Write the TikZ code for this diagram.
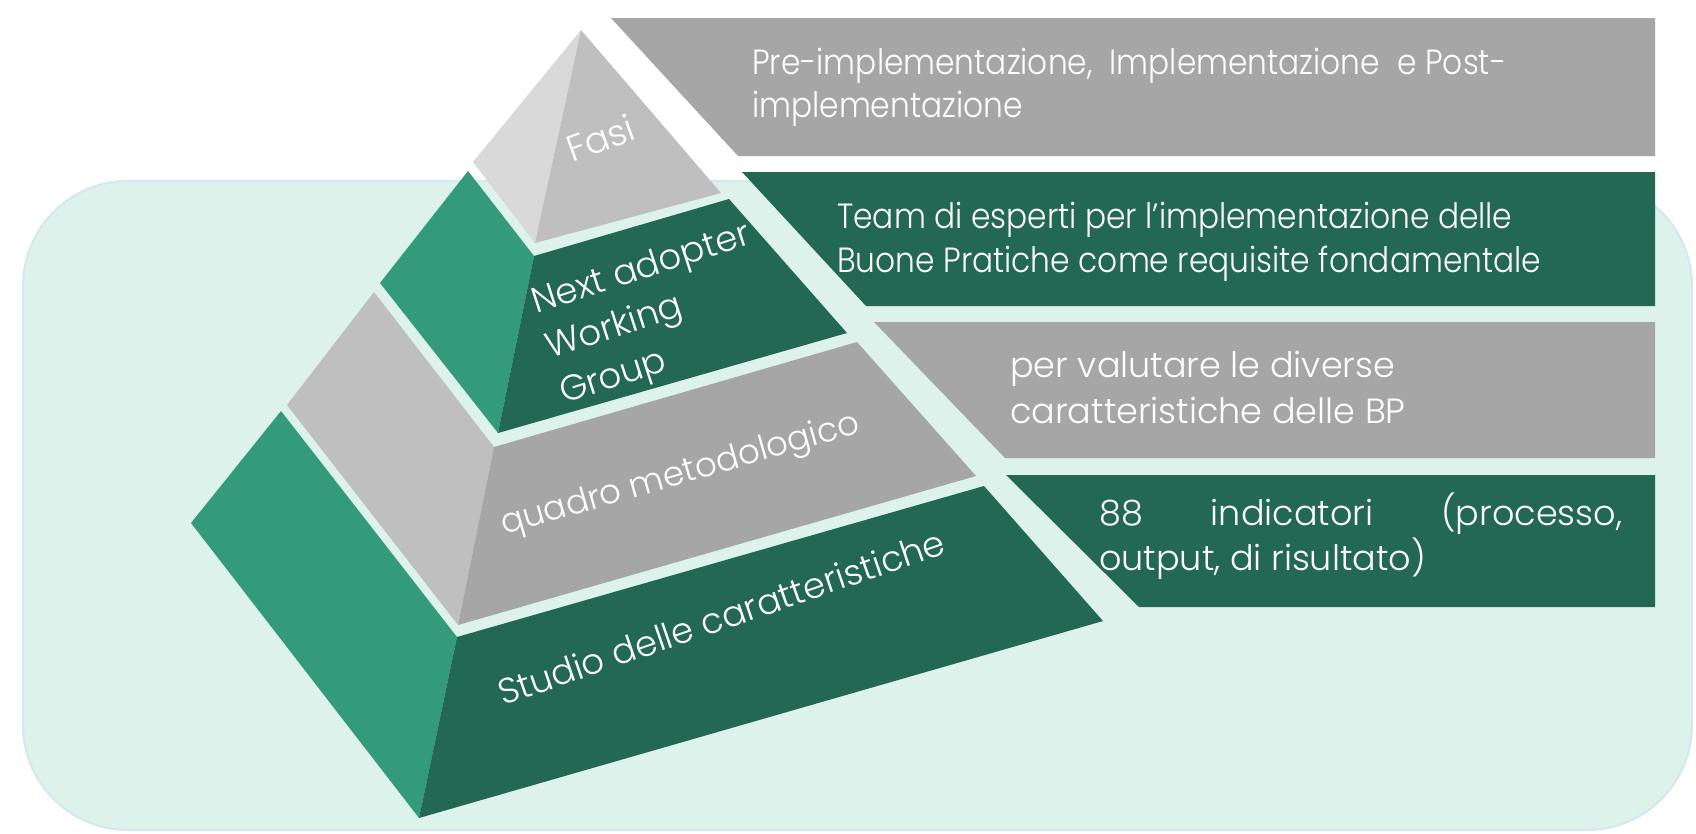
\documentclass[tikz,border=0pt]{standalone}
\usepackage{fontspec}
\usepackage{graphicx}
\setmainfont{Poppins}[UprightFont={* Light}]
\definecolor{dkgreen}{HTML}{236852}
\definecolor{mdgreen}{HTML}{339B7A}
\definecolor{grayA}{HTML}{A6A6A6}
\definecolor{grayB}{HTML}{BFBFBF}
\definecolor{grayC}{HTML}{D9D9D9}
\definecolor{mint}{HTML}{DCF2EB}
\definecolor{mintline}{HTML}{D4E7F4}
\newcommand{\narrowtxt}[1]{\scalebox{0.893}[1]{#1}}
\begin{document}
\begin{tikzpicture}[x=1pt,y=-1pt,
  lbl/.style={text=white, inner sep=0pt, anchor=base west, font=\fontsize{35}{42}\selectfont},
  plbl/.style={lbl, rotate=17, font=\fontsize{35.5}{42}\selectfont}]
\useasboundingbox (0,0) rectangle (1696,833);
\fill[white] (0,0) rectangle (1696,833);
% background panel
\draw[mintline, line width=2pt, fill=mint, rounded corners=105pt] (23,181) rectangle (1692,830);
% right boxes
\fill[grayA]   (611,18) -- (1655,18) -- (1655,156) -- (738,156) -- cycle;
\fill[dkgreen] (742,172) -- (1655,172) -- (1655,306) -- (866,306) -- cycle;
\fill[grayA]   (874,322) -- (1655,322) -- (1655,458) -- (1005,458) -- cycle;
\fill[dkgreen] (1006,475) -- (1655,475) -- (1655,607) -- (1139,607) -- cycle;
% pyramid tier 1
\fill[grayC] (581,30) -- (473,162) -- (535,243) -- cycle;
\fill[grayB] (581,30) -- (535,243) -- (721,193) -- cycle;
% tier 2
\fill[mdgreen] (468,171) -- (380,283) -- (498,433) -- (534,256) -- cycle;
\fill[dkgreen] (534,256) -- (729,199) -- (847,333) -- (498,433) -- cycle;
% tier 3
\fill[grayB] (374,292) -- (287,405) -- (458,625) -- (494,447) -- cycle;
\fill[grayA] (494,447) -- (857,342) -- (976,476) -- (458,625) -- cycle;
% tier 4
\fill[mdgreen] (281,411) -- (191,523) -- (419,818) -- (457,637) -- cycle;
\fill[dkgreen] (457,637) -- (984,486) -- (1103,621) -- (419,818) -- cycle;
% pyramid labels
\node[plbl, rotate=3, font=\fontsize{36.5}{42}\selectfont] (fasi) at (572,163) {Fasi};
\node[plbl, rotate=1] (nwg1) at (536,314) {Next adopter};
\node[plbl, rotate=1] (nwg2) at (550,359) {Working};
\node[plbl, rotate=1] (nwg3) at (564,404) {Group};
\node[plbl, rotate=-1, font=\fontsize{34}{40}\selectfont] (quadro) at (504,535) {quadro metodologico};
\node[plbl, rotate=2] (studio) at (503,706) {Studio delle caratteristiche};
% box texts
\node[lbl] (b1a) at (752,74) {\narrowtxt{Pre-implementazione,\ \ Implementazione\ \ e Post-}};
\node[lbl] (b1b) at (752,117) {\narrowtxt{implementazione}};
\node[lbl] (b2a) at (837,228) {\narrowtxt{Team di esperti per l'implementazione delle}};
\node[lbl] (b2b) at (837,272) {\narrowtxt{Buone Pratiche come requisite fondamentale}};
\node[lbl] (b3a) at (1010,377) {per valutare le diverse};
\node[lbl] (b3b) at (1010,423) {caratteristiche delle BP};
\node[lbl] (b4a) at (1099,525) {\makebox[523pt][s]{88 indicatori (processo,}};
\node[lbl] (b4b) at (1099,570) {output, di risultato)};
\end{tikzpicture}
\end{document}
